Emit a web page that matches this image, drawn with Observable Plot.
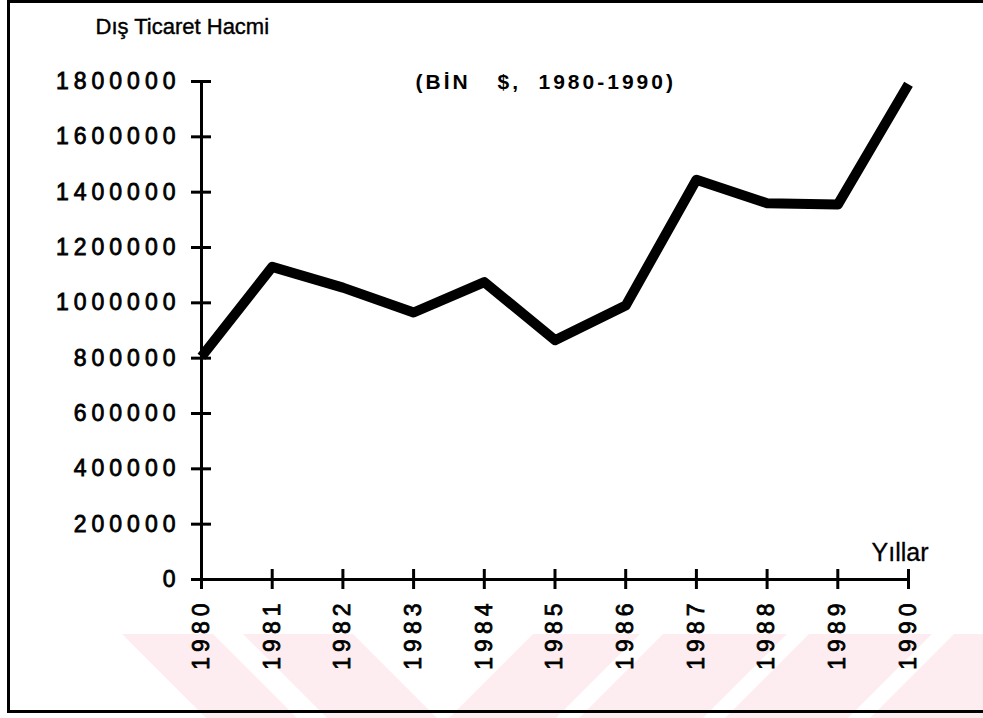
<!DOCTYPE html>
<html>
<head>
<meta charset="utf-8">
<script src="https://cdn.jsdelivr.net/npm/d3@7"></script>
<script src="https://cdn.jsdelivr.net/npm/@observablehq/plot@0.6"></script>
<style>
  html, body { margin: 0; padding: 0; background: #fff; }
  #wrap { position: relative; width: 983px; height: 718px; overflow: hidden; background: #fff; }
  .frame { position: absolute; left: 7px; top: 0px; width: 990px; height: 707px;
           border-left: 3px solid #000; border-top: 3px solid #000; border-bottom: 3px solid #000; }
  .wm { position: absolute; left: 0; top: 634px; width: 983px; height: 84px;
        background: rgb(253, 237, 240);
        clip-path: path('M122,0 L213,0 L297,84 L206,84 Z M243,0 L353,0 L437,84 L327,84 Z M533,0 L640,0 L556,84 L449,84 Z M663,0 L787,0 L703,84 L579,84 Z M809,0 L932,0 L848,84 L725,84 Z M954,0 L1077,0 L993,84 L870,84 Z'); }
  #chart { position: absolute; left: 0; top: 0; }
  #chart svg text { font-family: "Liberation Sans", Arial, Helvetica, sans-serif; fill: #000; }
  g[aria-label="y-axis tick label"] text,
  g[aria-label="x-axis tick label"] text { font-size: 23px; font-weight: normal; letter-spacing: 5px;
        stroke: #000; stroke-width: 0.8px; }
  .sub text { letter-spacing: 3px; }
</style>
</head>
<body>
<div id="wrap">
  <div class="wm"></div>
  <div class="frame"></div>
  <div id="chart"></div>
</div>
<script>
// ---- data ----
const years = [1980, 1981, 1982, 1983, 1984, 1985, 1986, 1987, 1988, 1989, 1990];
const volume = [805000, 1130000, 1055000, 965000, 1075000, 865000, 990000, 1445000, 1360000, 1355000, 1790000];
const yTicks = [0, 200000, 400000, 600000, 800000, 1000000, 1200000, 1400000, 1600000, 1800000];
const yLabel = "Dış Ticaret Hacmi";
const xLabel = "Yıllar";
const subtitleParts = ["(BİN", "$,", "1980-1990)"];

const series = years.map((y, i) => ({year: y, value: volume[i]}));

const subOpts = {frameAnchor: "top-left", textAnchor: "start", lineAnchor: "bottom",
                 fontSize: 21, fontWeight: "bold", text: d => d, className: "sub"};

const chart = Plot.plot({
  width: 983,
  height: 718,
  marginLeft: 201,
  marginRight: 75,
  marginTop: 81,
  marginBottom: 139,
  style: {background: "transparent", overflow: "visible", fontFamily: "Liberation Sans, Arial, sans-serif"},
  x: {domain: [1980, 1990], label: null},
  y: {domain: [0, 1800000], label: null},
  marks: [
    // axis lines
    Plot.ruleX([1980], {y1: 0, y2: 1800000, stroke: "#000", strokeWidth: 3}),
    Plot.ruleY([0], {x1: 1980, x2: 1990, stroke: "#000", strokeWidth: 3}),
    // crossing ticks + labels
    Plot.axisY(yTicks, {tickSize: 20, dx: 10, tickPadding: 11, tickFormat: d3.format("d"),
                        stroke: "#000", strokeWidth: 3, label: null}),
    Plot.axisX(years, {tickSize: 20, dy: -10, tickPadding: 9, tickRotate: -90, tickFormat: d3.format("d"),
                       stroke: "#000", strokeWidth: 3, label: null}),
    // data line
    Plot.line(series, {x: "year", y: "value", stroke: "#000", strokeWidth: 10,
                       strokeLinejoin: "round", strokeLinecap: "butt"}),
    // annotations
    Plot.text([yLabel], {frameAnchor: "top-left", textAnchor: "start", lineAnchor: "bottom",
                         dx: -106, dy: -48, fontSize: 22, text: d => d,
                         stroke: "#000", strokeWidth: 0.4, style: "letter-spacing:1.2px"}),
    Plot.text([subtitleParts[0]], {...subOpts, dx: 214, dy: 7}),
    Plot.text([subtitleParts[1]], {...subOpts, dx: 296, dy: 7}),
    Plot.text([subtitleParts[2]], {...subOpts, dx: 337, dy: 7}),
    Plot.text([xLabel], {frameAnchor: "bottom-right", textAnchor: "end", lineAnchor: "bottom",
                         dx: 20, dy: -19, fontSize: 25, text: d => d,
                         stroke: "#000", strokeWidth: 0.3})
  ]
});
document.getElementById("chart").appendChild(chart);
</script>
</body>
</html>
